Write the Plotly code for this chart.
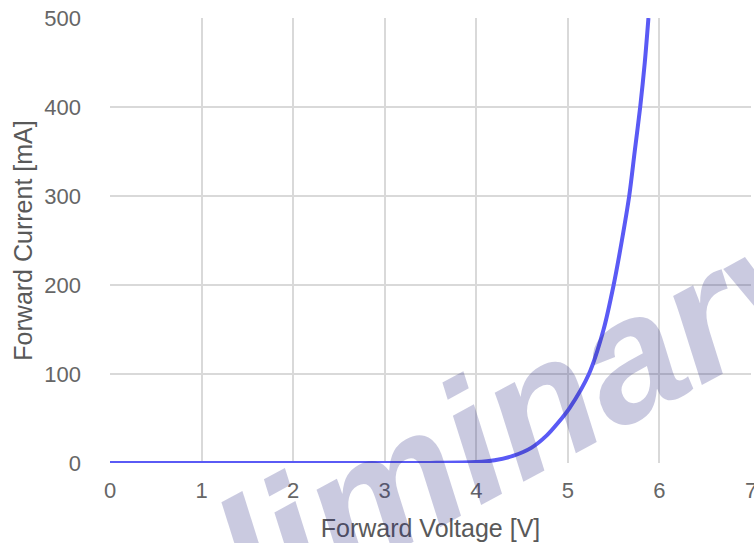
import plotly.graph_objects as go

# Forward voltage [V] and forward current [mA]
voltage = [0.0, 1.0, 2.0, 3.0, 3.5, 4.0, 4.2, 4.4, 4.6, 4.77, 4.9, 5.02, 5.23, 5.39, 5.50, 5.59, 5.67, 5.73, 5.79, 5.84, 5.88]
current = [0.0, 0.0, 0.0, 0.0, 0.1, 1.0, 3.0, 8.0, 17.0, 31.0, 46.0, 62.0, 100.0, 150.0, 200.0, 250.0, 300.0, 350.0, 400.0, 450.0, 500.0]

x_ticks = [0, 1, 2, 3, 4, 5, 6, 7]
y_ticks = [0, 100, 200, 300, 400, 500]

x_title = "Forward Voltage [V]"
y_title = "Forward Current [mA]"
watermark = "Preliminary"

FONT = "Liberation Sans, Arial, sans-serif"

fig = go.Figure()
fig.add_trace(go.Scatter(
    x=voltage, y=current, mode="lines",
    line=dict(color="#5a5af5", width=4, shape="spline", smoothing=0.8),
    hoverinfo="skip", showlegend=False, cliponaxis=False,
))

fig.add_annotation(
    text=watermark, xref="paper", yref="paper", x=0.454, y=-0.036,
    xanchor="center", yanchor="middle",
    showarrow=False, textangle=-28.5,
    font=dict(family=FONT, size=174, color="rgba(45,45,130,0.25)", weight="bold", style="italic"),
)

fig.update_layout(
    width=754, height=543,
    margin=dict(l=110, r=3, t=18, b=80, autoexpand=False),
    paper_bgcolor="white", plot_bgcolor="white",
    font=dict(family=FONT, color="#666666"),
    showlegend=False,
)
fig.update_xaxes(
    range=[0, 7], tickvals=x_ticks, ticktext=[str(v) for v in x_ticks],
    showgrid=True, gridcolor="#d9d9d9", gridwidth=2, zeroline=False,
    showline=False, ticks="", ticklabelstandoff=12, automargin=False,
    ticklabeloverflow="allow",
    tickfont=dict(size=22, color="#666666"),
    title=dict(text=x_title, font=dict(size=25, color="#595959"), standoff=17),
)
fig.update_yaxes(
    range=[0, 500], tickvals=y_ticks, ticktext=[str(v) for v in y_ticks],
    showgrid=True, gridcolor="#d9d9d9", gridwidth=2, zeroline=False,
    showline=False, ticks="", ticklabelstandoff=28, automargin=False,
    ticklabeloverflow="allow",
    tickfont=dict(size=22, color="#666666"),
    title=dict(text=y_title, font=dict(size=25, color="#595959"), standoff=4),
)

fig.write_html(
    "out.html",
    config={"displayModeBar": False},
    post_script="document.body.style.margin='0';document.body.style.overflow='hidden';",
)
